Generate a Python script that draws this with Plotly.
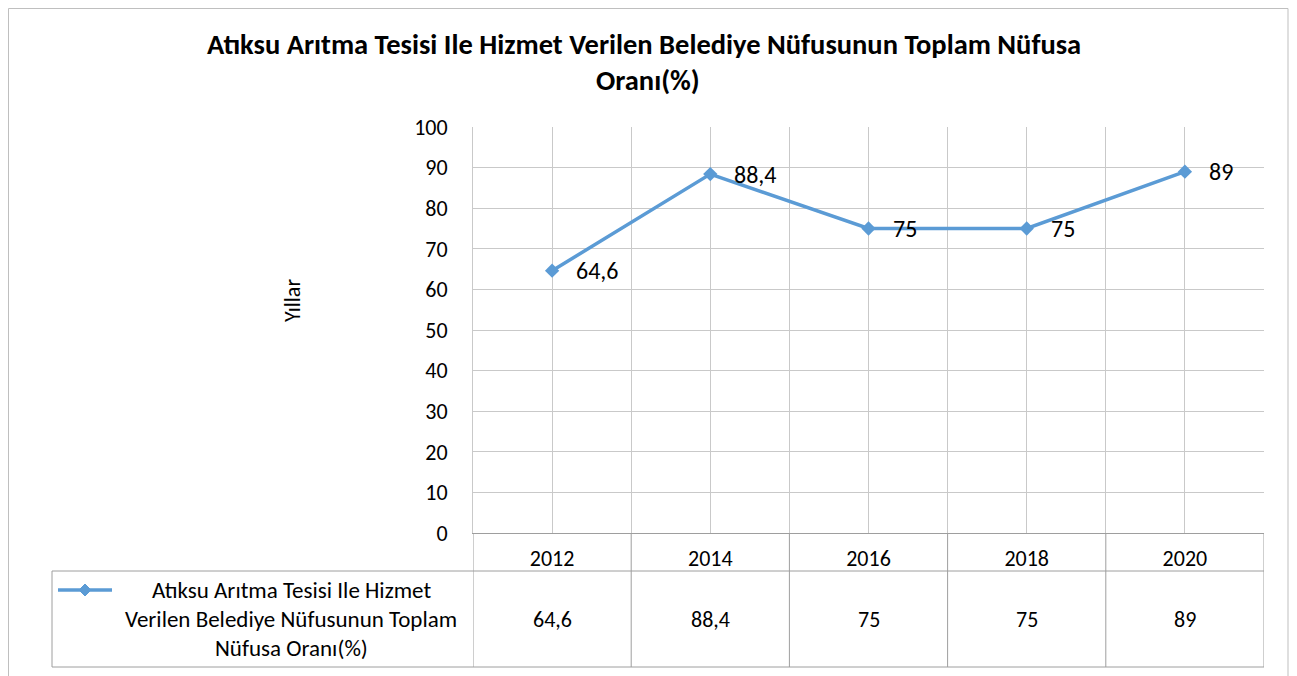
import plotly.graph_objects as go

years = [2012, 2014, 2016, 2018, 2020]
values = [64.6, 88.4, 75, 75, 89]
series_name = "Atıksu Arıtma Tesisi Ile Hizmet Verilen Belediye Nüfusunun Toplam Nüfusa Oranı(%)"
legend_lines = ["Atıksu Arıtma Tesisi Ile Hizmet", "Verilen Belediye Nüfusunun Toplam", "Nüfusa Oranı(%)"]
title_lines = ["Atıksu Arıtma Tesisi Ile Hizmet Verilen Belediye Nüfusunun Toplam Nüfusa", "Oranı(%)"]
y_title = "Yıllar"

FONT = "Carlito, Calibri, Lato, sans-serif"
BLUE = "#5B9BD5"
GRID = "#C9C9C9"
TABLE = "#9E9E9E"

# page has an 8px body margin; work in screen coordinates and shift
OFF = 8
W, H = 1297 - OFF, 676 - OFF
L, R, T, B = 473, 1264, 127, 533          # screen coords of plot area
pw, ph = R - L, B - T

def px(x):
    return (x - L) / pw

def py(y):
    return (B - y) / ph

def fmt(v):
    return ("%g" % v).replace(".", ",")

fig = go.Figure()
fig.add_trace(go.Scatter(
    x=years, y=values, mode="lines+markers", name=series_name,
    line=dict(color=BLUE, width=3.5),
    marker=dict(symbol="diamond", size=11, color=BLUE),
    showlegend=False, hoverinfo="x+y",
))

annotations = []
# title lines
annotations.append(dict(x=px(644), y=py(45), xref="paper", yref="paper", text="<b>" + title_lines[0] + "</b>",
                        showarrow=False, xanchor="center", yanchor="middle",
                        font=dict(family=FONT, size=28.5, color="black")))
annotations.append(dict(x=px(648), y=py(80), xref="paper", yref="paper", text="<b>" + title_lines[1] + "</b>",
                        showarrow=False, xanchor="center", yanchor="middle",
                        font=dict(family=FONT, size=28.5, color="black")))
# data labels
for x, v in zip(years, values):
    annotations.append(dict(x=x, y=v, xref="x", yref="y", text=fmt(v), showarrow=False,
                            xanchor="left", yanchor="middle", xshift=22, yshift=0,
                            font=dict(family=FONT, size=24, color="black")))
# table values
for x, v in zip(years, values):
    annotations.append(dict(x=x, y=py(619), xref="x", yref="paper", text=fmt(v), showarrow=False,
                            xanchor="center", yanchor="middle",
                            font=dict(family=FONT, size=22, color="black")))
# legend text in table (one annotation per line, centered)
for line, yy in zip(legend_lines, [590, 619, 648]):
    annotations.append(dict(x=px(291), y=py(yy), xref="paper", yref="paper",
                            text=line, showarrow=False, xanchor="center", yanchor="middle",
                            font=dict(family=FONT, size=23, color="black")))
# y title
annotations.append(dict(x=px(292), y=py(301), xref="paper", yref="paper", text=y_title,
                        textangle=-90, showarrow=False, xanchor="center", yanchor="middle",
                        font=dict(family=FONT, size=22, color="black")))

shapes = []
# outer border
shapes.append(dict(type="rect", xref="paper", yref="paper", x0=px(8.5), x1=px(1288), y0=py(700), y1=py(8.5),
                   line=dict(color="#BFBFBF", width=1), layer="below"))
# table horizontal lines
shapes.append(dict(type="line", xref="paper", yref="paper", x0=px(52), x1=1, y0=py(571), y1=py(571),
                   line=dict(color=TABLE, width=1)))
shapes.append(dict(type="line", xref="paper", yref="paper", x0=px(52), x1=1, y0=py(667), y1=py(667),
                   line=dict(color=TABLE, width=1)))
# table vertical lines
shapes.append(dict(type="line", xref="paper", yref="paper", x0=px(52), x1=px(52), y0=py(571), y1=py(667),
                   line=dict(color=TABLE, width=1)))
for xb in [years[0] - 1] + [y + 1 for y in years]:
    shapes.append(dict(type="line", xref="x", yref="paper", x0=xb, x1=xb, y0=0, y1=py(667),
                       line=dict(color=TABLE, width=1)))
# legend key in table
shapes.append(dict(type="line", xref="paper", yref="paper", x0=px(58), x1=px(112), y0=py(590), y1=py(590),
                   line=dict(color=BLUE, width=3.5)))
cx, cy, d = 85, 590, 6
shapes.append(dict(type="path", xref="paper", yref="paper",
                   path=f"M {px(cx-d)} {py(cy)} L {px(cx)} {py(cy-d)} L {px(cx+d)} {py(cy)} L {px(cx)} {py(cy+d)} Z",
                   fillcolor=BLUE, line=dict(color=BLUE, width=1)))

fig.update_layout(
    width=W, height=H,
    margin=dict(l=L - OFF, r=W - (R - OFF), t=T - OFF, b=H - (B - OFF), pad=0),
    paper_bgcolor="white", plot_bgcolor="white",
    xaxis=dict(range=[years[0] - 1, years[-1] + 1], tickvals=years, ticktext=[str(y) for y in years],
               showgrid=True, gridcolor=GRID, gridwidth=1,
               minor=dict(dtick=1, tick0=years[0] - 1, showgrid=True, gridcolor=GRID, gridwidth=1),
               showline=True, linecolor=TABLE, linewidth=1, zeroline=False,
               ticks="outside", ticklen=6, tickcolor="rgba(0,0,0,0)",
               tickfont=dict(family=FONT, size=22, color="black")),
    yaxis=dict(range=[0, 100], dtick=10, showgrid=True, gridcolor=GRID, gridwidth=1,
               showline=True, linecolor=GRID, linewidth=1, zeroline=False,
               ticks="outside", ticklen=20, tickcolor="rgba(0,0,0,0)",
               tickfont=dict(family=FONT, size=22, color="black")),
    annotations=annotations, shapes=shapes,
)

fig.write_html("out.html")
